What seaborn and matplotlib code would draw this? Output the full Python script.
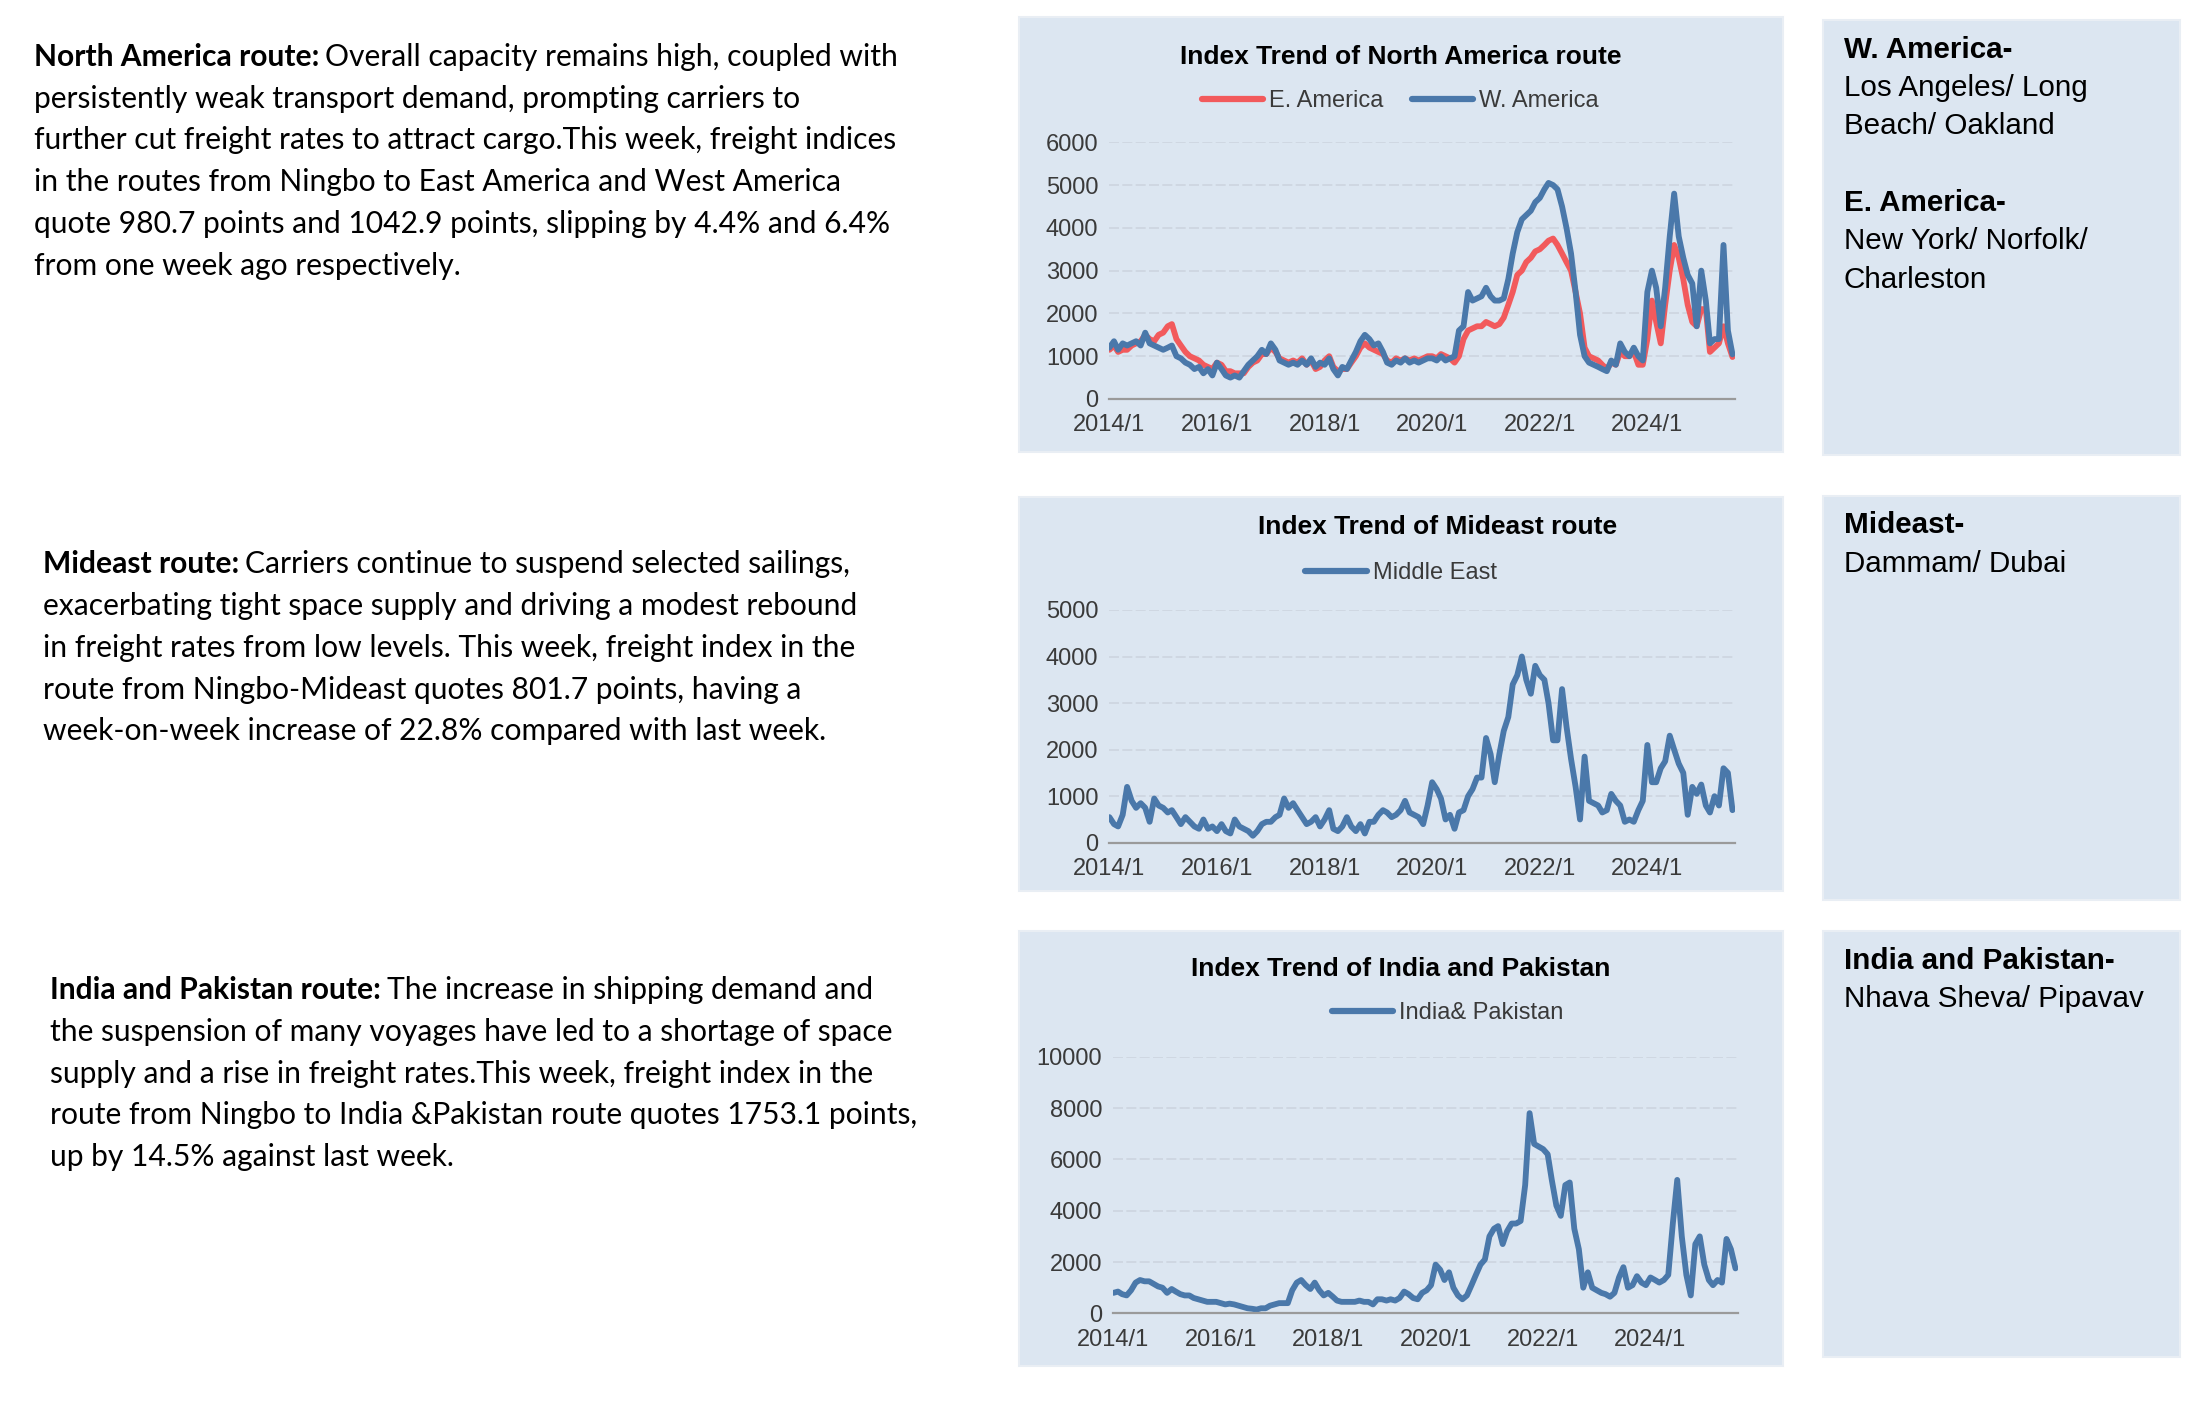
import numpy as np
import pandas as pd
import matplotlib
matplotlib.use("Agg")
import matplotlib.pyplot as plt
import seaborn as sns
from matplotlib import font_manager
from matplotlib.patches import Rectangle

# ── Data (monthly readings, 2014/1 .. 2025/8) ───────────
MONTHS = pd.date_range("2014-01-01", periods=140, freq="MS")

w_america = [
    1200, 1350, 1150, 1300, 1250, 1300, 1350, 1250, 1550, 1300, 1250, 1200,
    1150, 1200, 1250, 1000, 950, 850, 800, 700, 750, 600, 700, 550,
    850, 700, 550, 500, 550, 500, 650, 800, 900, 1000, 1150, 1050,
    1300, 1150, 900, 850, 800, 850, 800, 900, 800, 950, 750, 850,
    800, 950, 700, 550, 750, 700, 900, 1100, 1350, 1500, 1400, 1250,
    1300, 1100, 850, 800, 900, 850, 950, 850, 900, 850, 900, 950,
    950, 900, 1000, 900, 950, 1000, 1600, 1700, 2500, 2300, 2350, 2400,
    2600, 2400, 2300, 2300, 2350, 2800, 3400, 3900, 4200, 4300, 4400, 4600,
    4700, 4900, 5050, 5000, 4900, 4500, 4000, 3400, 2500, 1500, 1000, 850,
    800, 750, 700, 650, 900, 800, 1300, 1100, 1000, 1200, 1000, 900,
    2500, 3000, 2600, 1700, 2600, 3800, 4800, 3800, 3300, 2900, 2700, 1700,
    3000, 2300, 1300, 1400, 1400, 3600, 1600, 1043,
]

e_america = [
    1150, 1250, 1100, 1150, 1150, 1250, 1300, 1350, 1500, 1400, 1350, 1500,
    1550, 1700, 1750, 1400, 1250, 1100, 1000, 950, 900, 800, 750, 700,
    850, 800, 650, 650, 600, 600, 600, 750, 850, 900, 1050, 1050,
    1200, 1100, 950, 900, 850, 900, 850, 950, 800, 900, 700, 750,
    900, 1000, 750, 650, 700, 700, 850, 1000, 1200, 1300, 1200, 1150,
    1100, 1050, 900, 850, 950, 900, 950, 900, 950, 900, 950, 1000,
    1000, 950, 1050, 1000, 950, 850, 1000, 1400, 1600, 1650, 1700, 1700,
    1800, 1750, 1700, 1750, 1900, 2200, 2500, 2900, 3000, 3200, 3300, 3450,
    3500, 3600, 3700, 3750, 3600, 3400, 3200, 3000, 2500, 2000, 1200, 1000,
    950, 900, 800, 700, 850, 800, 1100, 1000, 1000, 1100, 800, 800,
    1400, 2300, 1800, 1300, 2200, 3000, 3600, 3300, 2800, 2200, 1800, 1700,
    2100, 2100, 1100, 1200, 1300, 1700, 1300, 981,
]

middle_east = [
    550, 400, 350, 600, 1200, 900, 750, 850, 750, 450, 950, 800,
    750, 650, 700, 550, 400, 550, 450, 350, 300, 500, 300, 350,
    250, 400, 250, 200, 500, 350, 300, 250, 150, 250, 400, 450,
    450, 550, 600, 950, 750, 850, 700, 550, 400, 450, 550, 350,
    500, 700, 300, 250, 350, 550, 350, 250, 400, 200, 450, 450,
    600, 700, 650, 550, 600, 700, 900, 650, 600, 550, 400, 800,
    1300, 1150, 950, 500, 600, 300, 650, 700, 1000, 1150, 1400, 1400,
    2250, 1900, 1300, 1900, 2400, 2700, 3400, 3600, 4000, 3500, 3200, 3800,
    3600, 3500, 3000, 2200, 2200, 3300, 2500, 1800, 1200, 500, 1850, 900,
    850, 800, 650, 700, 1050, 900, 800, 450, 500, 450, 700, 900,
    2100, 1300, 1300, 1600, 1750, 2300, 2000, 1700, 1500, 600, 1200, 1050,
    1250, 800, 650, 1000, 800, 1600, 1500, 700,
]

india_pakistan = [
    800, 850, 750, 700, 900, 1200, 1300, 1250, 1250, 1150, 1050, 1000,
    800, 950, 850, 750, 700, 700, 600, 550, 500, 450, 450, 450,
    400, 350, 380, 350, 300, 250, 200, 180, 150, 200, 200, 300,
    350, 400, 400, 400, 900, 1200, 1300, 1100, 950, 1200, 900, 700,
    800, 650, 500, 450, 450, 450, 450, 500, 450, 450, 350, 550,
    550, 500, 550, 500, 600, 850, 750, 600, 550, 800, 900, 1100,
    1900, 1700, 1300, 1600, 1000, 700, 550, 700, 1100, 1500, 1900, 2100,
    3000, 3300, 3400, 2700, 3200, 3500, 3500, 3600, 5000, 7800, 6600, 6500,
    6400, 6200, 5200, 4200, 3800, 5000, 5100, 3300, 2500, 1000, 1600, 1000,
    900, 800, 750, 650, 800, 1400, 1800, 1000, 1100, 1450, 1200, 1100,
    1400, 1300, 1200, 1300, 1500, 3500, 5200, 3000, 1500, 700, 2700, 3000,
    1900, 1300, 1100, 1300, 1200, 2900, 2500, 1753,
]

YEAR_TICKS = [2014, 2016, 2018, 2020, 2022, 2024]

left_notes = [
    ("North America route:", [
        "Overall capacity remains high, coupled with",
        "persistently weak transport demand, prompting carriers to",
        "further cut freight rates to attract cargo.This week, freight indices",
        "in the routes from Ningbo to East America and West America",
        "quote 980.7 points and 1042.9 points, slipping by 4.4% and 6.4%",
        "from one week ago respectively.",
    ]),
    ("Mideast route:", [
        "Carriers continue to suspend selected sailings,",
        "exacerbating tight space supply and driving a modest rebound",
        "in freight rates from low levels. This week, freight index in the",
        "route from Ningbo-Mideast quotes 801.7 points, having a",
        "week-on-week increase of 22.8% compared with last week.",
    ]),
    ("India and Pakistan route:", [
        "The increase in shipping demand and",
        "the suspension of many voyages have led to a shortage of space",
        "supply and a rise in freight rates.This week, freight index in the",
        "route from Ningbo to India &Pakistan route quotes 1753.1 points,",
        "up by 14.5% against last week.",
    ]),
]

port_notes = [
    [("W. America-", True), ("Los Angeles/ Long", False), ("Beach/ Oakland", False),
     ("", False), ("E. America-", True), ("New York/ Norfolk/", False), ("Charleston", False)],
    [("Mideast-", True), ("Dammam/ Dubai", False)],
    [("India and Pakistan-", True), ("Nhava Sheva/ Pipavav", False)],
]

# ── Style ───────────────────────────────────────────────
BLUE  = "#4A78AA"
RED   = "#F25A5C"
PANEL = "#DCE6F1"
GRID  = "#CDD5DF"
TXT   = "#3A3A3A"
W, H  = 2212, 1407
S     = 0.995   # layout was measured on a slightly scaled view

sns.set_theme(style="white")
names = {f.name for f in font_manager.fontManager.ttflist}
NARROW = "Liberation Sans Narrow" if "Liberation Sans Narrow" in names else "Liberation Sans"
plt.rcParams["font.family"] = ["Liberation Sans", "DejaVu Sans"]
BODY = "Lato" if "Lato" in names else "DejaVu Sans"

fig = plt.figure(figsize=(W / 100, H / 100), dpi=100)
fig.patch.set_facecolor("white")


def fx(x):
    return x * S / W


def fy(y):
    return 1 - y * S / H


def fbox(x0, y0, x1, y1):
    return [fx(x0), fy(y1), fx(x1) - fx(x0), fy(y0) - fy(y1)]


def panel(x0, y0, x1, y1):
    l, b, w, h = fbox(x0, y0, x1, y1)
    fig.add_artist(Rectangle((l, b), w, h, transform=fig.transFigure,
                             facecolor=PANEL, edgecolor="#E9EEF4", lw=1.5, zorder=0))


def chart(pbox, abox, title, title_xy, legend_xy, series, ymax, ystep):
    panel(*pbox)
    ax = fig.add_axes(fbox(*abox))
    ax.set_facecolor("none")
    for name, vals, col in series:
        df = pd.DataFrame({"date": MONTHS, "value": vals})
        sns.lineplot(data=df, x="date", y="value", color=col, lw=4.2,
                     label=name, ax=ax)
    ax.set_xlim(pd.Timestamp("2014-01-01"), pd.Timestamp("2025-08-20"))
    ax.set_ylim(0, ymax)
    ax.set_yticks(range(0, ymax + 1, ystep))
    ax.set_xticks([pd.Timestamp(f"{y}-01-01") for y in YEAR_TICKS])
    ax.set_xticklabels([f"{y}/1" for y in YEAR_TICKS])
    ax.set_xlabel("")
    ax.set_ylabel("")
    for s in ["top", "right", "left"]:
        ax.spines[s].set_visible(False)
    ax.spines["bottom"].set_color("#9A9A9A")
    ax.spines["bottom"].set_linewidth(1.6)
    ax.grid(axis="y", color=GRID, lw=1.2, ls=(0, (6, 2)))
    ax.grid(axis="x", visible=False)
    ax.tick_params(axis="x", direction="out", length=7, width=1.2, color="#9A9A9A",
                   labelsize=17, labelcolor=TXT, pad=4)
    ax.tick_params(axis="y", length=0, labelsize=17, labelcolor=TXT, pad=8)
    for lab in ax.get_xticklabels() + ax.get_yticklabels():
        lab.set_family(NARROW)
    leg = ax.legend(loc="center", bbox_to_anchor=(fx(legend_xy[0]), fy(legend_xy[1])),
                    bbox_transform=fig.transFigure, ncol=len(series), frameon=False,
                    prop={"family": NARROW, "size": 17}, labelcolor=TXT,
                    handlelength=2.6, handletextpad=0.25, columnspacing=1.2)
    for h in leg.get_lines():
        h.set_linewidth(4.5)
    fig.text(fx(title_xy[0]), fy(title_xy[1]), title, ha="center", va="center",
             family=NARROW, weight="bold", size=19, color="black")
    return ax


chart((1024, 17, 1792, 454), (1115, 143, 1744, 401),
      "Index Trend of North America route", (1408, 57), (1407, 102),
      [("E. America", e_america, RED), ("W. America", w_america, BLUE)], 6000, 1000)
chart((1024, 499, 1792, 895), (1115, 613, 1744, 847),
      "Index Trend of Mideast route", (1445, 530), (1408, 576),
      [("Middle East", middle_east, BLUE)], 5000, 1000)
chart((1024, 936, 1792, 1373), (1119, 1062, 1747, 1320),
      "Index Trend of India and Pakistan", (1408, 974), (1455, 1018),
      [("India& Pakistan", india_pakistan, BLUE)], 10000, 2000)

# right-hand port boxes
for (x0, y0, x1, y1), lines in zip([(1832, 20, 2191, 457), (1832, 498, 2191, 905),
                                    (1832, 936, 2191, 1364)], port_notes):
    panel(x0, y0, x1, y1)
    for k, (txt, bold) in enumerate(lines):
        fig.text(fx(1853), fy(y0 + 30 + k * 38.5), txt, ha="left", va="center",
                 size=21.3, weight="bold" if bold else "normal", color="black",
                 family=["Liberation Sans", "DejaVu Sans"])

# left commentary
fig.canvas.draw()
renderer = fig.canvas.get_renderer()
for (x, y), (head, lines) in zip([(34, 57), (43, 567), (50, 995)], left_notes):
    t = fig.text(fx(x), fy(y), head, ha="left", va="center", size=21.6,
                 weight="bold", family=BODY, color="black")
    wpx = t.get_window_extent(renderer=renderer).width
    fig.text(fx(x) + (wpx + 6) / W, fy(y), lines[0], ha="left", va="center",
             size=21.6, family=BODY, color="black")
    for k, line in enumerate(lines[1:], start=1):
        fig.text(fx(x), fy(y + k * 42), line, ha="left", va="center",
                 size=21.6, family=BODY, color="black")

fig.savefig("out.png", dpi=100)
plt.close(fig)
